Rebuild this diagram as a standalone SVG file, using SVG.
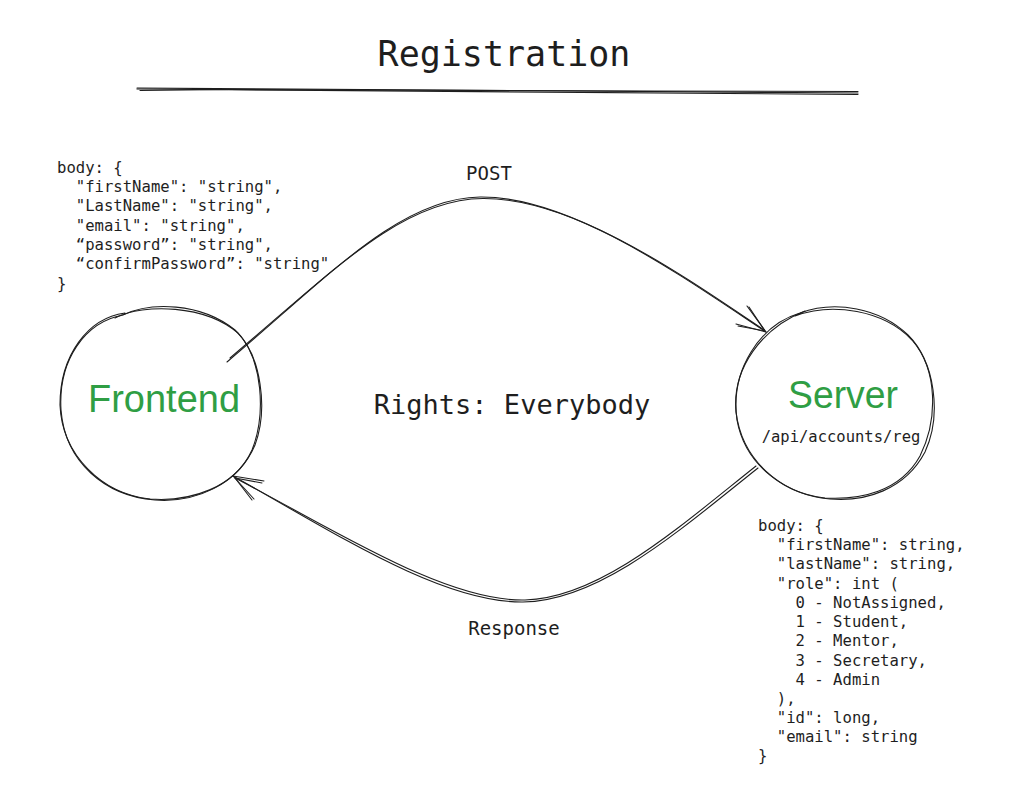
<svg xmlns="http://www.w3.org/2000/svg" width="1024" height="796" viewBox="0 0 1024 796">
<style>
.mono{font-family:"DejaVu Sans Mono","Liberation Mono",monospace;fill:#1e1e1e}
.code{font-size:15.6px;white-space:pre}
.hand{font-family:"Liberation Sans","DejaVu Sans",sans-serif;fill:#2f9e44}
.sk{fill:none;stroke:#1e1e1e;stroke-width:1.1;stroke-linecap:round;stroke-linejoin:round}
</style>
<rect width="1024" height="796" fill="#ffffff"/>

<g id="title">
<text class="mono" x="504" y="66" font-size="35" text-anchor="middle">Registration</text>
<path class="sk" d="M137,88 L858,93" stroke-width="1.6"/>
<path class="sk" d="M140,90.5 L230,89.5 L640,91 L858,91.5"/>
<path class="sk" d="M137,89 L858,94.5"/>
</g>

<g id="request-body">
<text class="mono code" x="57" xml:space="preserve"><tspan x="57" y="173">body: {</tspan><tspan x="57" y="192">  "firstName": "string",</tspan><tspan x="57" y="211">  "LastName": "string",</tspan><tspan x="57" y="231">  "email": "string",</tspan><tspan x="57" y="250">  “password”: "string",</tspan><tspan x="57" y="269">  “confirmPassword”: "string"</tspan><tspan x="57" y="289">}</tspan></text>
</g>

<g id="response-body">
<text class="mono code" x="758" xml:space="preserve"><tspan x="758" y="531">body: {</tspan><tspan x="758" y="550">  "firstName": string,</tspan><tspan x="758" y="569">  "lastName": string,</tspan><tspan x="758" y="589">  "role": int (</tspan><tspan x="758" y="608">    0 - NotAssigned,</tspan><tspan x="758" y="627">    1 - Student,</tspan><tspan x="758" y="646">    2 - Mentor,</tspan><tspan x="758" y="666">    3 - Secretary,</tspan><tspan x="758" y="685">    4 - Admin</tspan><tspan x="758" y="704">  ),</tspan><tspan x="758" y="723">  "id": long,</tspan><tspan x="758" y="742">  "email": string</tspan><tspan x="758" y="761">}</tspan></text>
</g>

<g id="rights">
<text class="mono" x="512" y="414" font-size="27" text-anchor="middle">Rights: Everybody</text>
</g>

<g id="frontend">
<path class="sk" d="M123,315 C150,302 200,302 235,330 C262,355 268,410 255,445 C238,485 195,503 155,500 C105,496 65,462 61,410 C58,360 85,322 123,315 Z"/>
<path class="sk" d="M115,318 C145,303 205,305 238,333 C263,360 266,415 252,450 C235,488 190,502 150,499 C102,494 62,455 60,405 C60,355 88,318 125,313"/>
<text class="hand" x="164" y="412" font-size="38" text-anchor="middle" textLength="152" lengthAdjust="spacingAndGlyphs">Frontend</text>
</g>

<g id="server">
<path class="sk" d="M800,313 C835,300 880,308 908,335 C935,362 942,415 925,452 C905,490 865,502 830,499 C785,495 745,465 737,420 C730,370 760,325 800,313 Z"/>
<path class="sk" d="M795,316 C832,302 884,310 912,340 C938,370 938,420 920,456 C900,492 860,500 825,498 C780,493 742,460 736,412 C732,368 762,328 805,311"/>
<text class="hand" x="843" y="408" font-size="38" text-anchor="middle" textLength="110" lengthAdjust="spacingAndGlyphs">Server</text>
<text class="mono" x="841" y="442" font-size="15.5" text-anchor="middle">/api/accounts/reg</text>
</g>

<g id="connectors">
<g id="post">
<path class="sk" d="M227,362 C330,275 400,198 480,197 C570,196 680,275 766,332"/>
<path class="sk" d="M230,358 C332,272 402,199 483,198.5 C572,198 678,272 764,330"/>
<path class="sk" d="M747,306 L766,332 L736,324"/>
<path class="sk" d="M749,307 L765,331 L738,326"/>
<text class="mono" x="489" y="180" font-size="19" text-anchor="middle">POST</text>
</g>
<g id="response">
<path class="sk" d="M758,468 C680,530 600,601 523,602 C440,603 330,530 233,476"/>
<path class="sk" d="M756,466 C678,528 600,598 525,600 C445,602 332,528 235,478"/>
<path class="sk" d="M264,481 L233,476 L254,499"/>
<path class="sk" d="M262,483 L235,478 L252,500"/>
<text class="mono" x="514" y="635" font-size="19" text-anchor="middle">Response</text>
</g>
</g>
</svg>
